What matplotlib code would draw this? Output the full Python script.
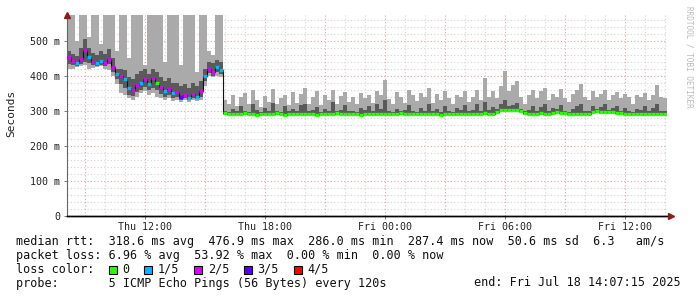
import numpy as np
import matplotlib
matplotlib.use("Agg")
import matplotlib.pyplot as plt
from matplotlib.patches import Rectangle

# sampling: Thu 08:07:15 -> Fri 14:07:15, one value per 12 minutes (hours since Thu 00:00)
start_hour = 8 + 7 / 60 + 15 / 3600
step_hours = 0.2

# median rtt (ms)
median = [
    452, 441, 436, 447, 472, 452, 440, 436, 441, 437,
    448, 425, 405, 398, 390, 365, 358, 372, 380, 390,
    375, 392, 380, 368, 355, 362, 350, 352, 340, 345,
    337, 348, 340, 355, 398, 418, 410, 425, 415,
    292, 290, 291, 289, 290, 292, 291, 290, 288, 290,
    291, 289, 290, 292, 290, 288, 289, 291, 290, 290,
    289, 291, 290, 288, 290, 291, 289, 290, 292, 290,
    290, 289, 291, 290, 288, 290, 291, 290, 289, 290,
    291, 290, 289, 290, 292, 290, 289, 291, 290, 289,
    290, 291, 289, 290, 288, 290, 291, 290, 289, 290,
    291, 290, 289, 290, 291, 292, 290, 291, 296, 301,
    302, 302, 301, 301, 300, 293, 290, 291, 290, 292,
    291, 290, 293, 295, 294, 292, 290, 291, 290, 289,
    290, 291, 297, 298, 297, 296, 297, 296, 294, 292,
    291, 290, 289, 291, 290, 289, 290, 291, 290, 289,
    290,
]

# lost pings out of 5
loss = [
    2, 2, 1, 2, 2, 1, 2, 1, 1, 2,
    2, 2, 1, 2, 1, 1, 2, 2, 1, 2,
    1, 2, 0, 2, 1, 2, 1, 2, 3, 2,
    1, 2, 1, 2, 1, 2, 2, 1, 1,
] + [0] * 111

# smoke: slowest / fastest ping (ms)
smoke_max = [
    580, 580, 500, 580, 580, 510, 580, 580, 490, 580,
    580, 580, 470, 580, 580, 450, 580, 580, 580, 430,
    580, 580, 580, 580, 440, 580, 580, 580, 430, 580,
    580, 580, 410, 580, 580, 470, 460, 580, 580,
    330, 318, 345, 312, 340, 350, 320, 358, 330, 310,
    342, 325, 362, 318, 335, 345, 315, 352, 322, 348,
    365, 320, 338, 355, 315, 345, 330, 360, 318, 342,
    352, 325, 340, 320, 350, 335, 345, 322, 355, 345,
    388, 332, 318, 352, 340, 322, 360, 345, 328, 350,
    340, 365, 322, 348, 330, 355, 335, 320, 345, 338,
    355, 325, 340, 360, 330, 392, 340, 355, 335, 370,
    413, 355, 372, 385, 340, 320, 345, 360, 335, 355,
    365, 330, 348, 340, 362, 335, 325, 348, 358, 375,
    340, 330, 355, 338, 348, 360, 330, 345, 352, 335,
    348, 340, 320, 345, 338, 350, 330, 345, 372, 340,
    335,
]
smoke_min = [
    420, 418, 425, 428, 430, 420, 422, 425, 428, 420,
    415, 400, 375, 350, 345, 335, 330, 340, 350, 355,
    345, 350, 340, 335, 330, 335, 328, 330, 325, 330,
    325, 330, 328, 330, 370, 400, 395, 400, 395,
    287, 286, 287, 285, 286, 287, 286, 286, 284, 286,
    287, 285, 286, 287, 286, 284, 285, 287, 286, 286,
    285, 287, 286, 284, 286, 287, 285, 286, 287, 286,
    286, 285, 287, 286, 284, 286, 287, 286, 285, 286,
    287, 286, 285, 286, 287, 286, 285, 287, 286, 285,
    286, 287, 285, 286, 284, 286, 287, 286, 285, 286,
    287, 286, 285, 286, 287, 288, 286, 287, 290, 295,
    296, 296, 295, 295, 294, 288, 286, 287, 286, 288,
    287, 286, 288, 289, 289, 288, 286, 287, 286, 285,
    286, 287, 291, 292, 291, 290, 291, 290, 289, 288,
    287, 286, 285, 287, 286, 285, 286, 287, 286, 285,
    286,
]

# smoke: inner pings around the median (ms)
inner_low = [
    432, 430, 428, 434, 440, 435, 430, 428, 430, 428,
    432, 410, 390, 375, 365, 345, 342, 352, 360, 368,
    358, 365, 360, 348, 338, 345, 335, 338, 330, 335,
    330, 335, 332, 340, 385, 408, 400, 410, 405,
    289, 288, 289, 287, 288, 289, 288, 288, 286, 288,
    289, 287, 288, 289, 288, 286, 287, 289, 288, 288,
    287, 289, 288, 286, 288, 289, 287, 288, 289, 288,
    288, 287, 289, 288, 286, 288, 289, 288, 287, 288,
    289, 288, 287, 288, 289, 288, 287, 289, 288, 287,
    288, 289, 287, 288, 286, 288, 289, 288, 287, 288,
    289, 288, 287, 288, 289, 290, 288, 289, 293, 298,
    299, 299, 298, 298, 297, 290, 288, 289, 288, 290,
    289, 288, 290, 292, 291, 290, 288, 289, 288, 287,
    288, 289, 294, 295, 294, 293, 294, 293, 291, 290,
    289, 288, 287, 289, 288, 287, 288, 289, 288, 287,
    288,
]
inner_high = [
    470, 462, 455, 478, 505, 480, 465, 458, 470, 462,
    475, 450, 420, 420, 415, 395, 390, 405, 412, 420,
    405, 420, 410, 395, 385, 392, 378, 380, 370, 375,
    365, 378, 370, 385, 420, 440, 435, 445, 440,
    300, 296, 305, 298, 312, 300, 296, 318, 302, 297,
    308, 298, 322, 300, 296, 312, 298, 305, 300, 315,
    318, 298, 302, 310, 296, 305, 299, 325, 298, 302,
    315, 300, 298, 296, 308, 302, 312, 298, 318, 305,
    330, 300, 296, 305, 298, 302, 315, 300, 297, 306,
    300, 318, 298, 305, 296, 312, 300, 297, 308, 302,
    315, 298, 302, 318, 300, 325, 302, 310, 305, 318,
    330, 312, 315, 322, 305, 298, 302, 312, 300, 310,
    318, 298, 306, 303, 315, 300, 296, 305, 312, 320,
    300, 298, 312, 305, 310, 318, 302, 308, 312, 300,
    308, 300, 296, 305, 302, 312, 298, 306, 320, 300,
    298,
]

loss_colors = ["#26ff00", "#00b8ff", "#dd00ff", "#5500ff", "#ff0000"]
loss_labels = ["0", "1/5", "2/5", "3/5", "4/5"]

x_labels = ["Thu 12:00", "Thu 18:00", "Fri 00:00", "Fri 06:00", "Fri 12:00"]
x_label_hours = [12, 18, 24, 30, 36]
y_ticks = [0, 100, 200, 300, 400, 500]

stats_lines = [
    "median rtt:  318.6 ms avg  476.9 ms max  286.0 ms min  287.4 ms now  50.6 ms sd  6.3   am/s",
    "packet loss: 6.96 % avg  53.92 % max  0.00 % min  0.00 % now",
]
probe_text = "probe:       5 ICMP Echo Pings (56 Bytes) every 120s"
end_text = "end: Fri Jul 18 14:07:15 2025"

W, H = 697, 297
MONO = "DejaVu Sans Mono"

fig = plt.figure(figsize=(W / 100, H / 100), dpi=100)
fig.patch.set_facecolor("white")
ax = fig.add_axes([67 / W, 1 - 215.5 / H, 600 / W, 200.5 / H])

n = len(median)
edges = start_hour + np.arange(n + 1) * step_hours
end_hour = edges[-1]


def ext(vals):
    return np.append(vals, vals[-1])


ymax = 573

# grid
for v in range(20, ymax, 20):
    major = v % 100 == 0
    ax.axhline(v, color="#e4a4a4" if major else "#d4d4d4", lw=0.8,
               ls=(0, (1, 2)), zorder=0)
for h in range(9, 39):
    major = h % 3 == 0
    ax.axvline(h, color="#e4a4a4" if major else "#d4d4d4", lw=0.8,
               ls=(0, (1, 2)), zorder=0)

# smoke
ax.fill_between(edges, ext(smoke_min), ext(smoke_max), step="post",
                color="#aaaaaa", lw=0, zorder=1)
ax.fill_between(edges, ext(inner_low), ext(inner_high), step="post",
                color="#5a5a5a", lw=0, zorder=2)

# median, coloured by loss
ax.step(edges, ext(median), where="post", color="#111111", lw=0.8, zorder=3)
ax.hlines(median, edges[:-1], edges[1:],
          colors=[loss_colors[l] for l in loss], lw=2.4, zorder=4)

ax.set_xlim(start_hour, end_hour)
ax.set_ylim(0, ymax)

for s in ["top", "right"]:
    ax.spines[s].set_visible(False)
ax.spines["left"].set_color("#666666")
ax.spines["left"].set_linewidth(0.8)
ax.spines["bottom"].set_color("black")
ax.spines["bottom"].set_linewidth(1.0)

ax.set_yticks(y_ticks)
ax.set_yticklabels(["0"] + ["%d m" % v for v in y_ticks[1:]])
ax.set_xticks(x_label_hours)
ax.set_xticklabels(x_labels)
ax.tick_params(axis="both", length=2, width=0.6, color="#666666",
               labelsize=7.2, pad=3)
for lab in ax.get_xticklabels() + ax.get_yticklabels():
    lab.set_family(MONO)
    lab.set_color("#222222")

# axis arrows
ax.plot([start_hour], [ymax], marker="^", color="#8b1a1a", ms=4,
        clip_on=False, zorder=6)
ax.plot([end_hour + 0.2], [0], marker=">", color="#8b1a1a", ms=4,
        clip_on=False, zorder=6)
ax.plot([start_hour, end_hour + 0.2], [0, 0], color="black", lw=1.0,
        clip_on=False, zorder=5)

fig.text(11 / W, 1 - 113 / H, "Seconds", rotation=90, family=MONO,
         fontsize=8, ha="center", va="center", color="#222222")
fig.text(689 / W, 1 - 6 / H, "RRDTOOL / TOBI OETIKER", rotation=270,
         family=MONO, fontsize=5.5, ha="center", va="top", color="#bbbbbb")

# legend block
fs = 8.5
char_w = 0.602 * fs * 100 / 72
x0 = 16
line_y = [242, 255.5, 269.5, 283]

for txt, yy in zip(stats_lines, line_y[:2]):
    fig.text(x0 / W, 1 - yy / H, txt, family=MONO, fontsize=fs,
             va="center", ha="left", color="#111111")

fig.text(x0 / W, 1 - line_y[2] / H, "loss color:", family=MONO,
         fontsize=fs, va="center", ha="left", color="#111111")
col = 13
for c, lab in zip(loss_colors, loss_labels):
    sx = x0 + col * char_w + 0.5
    sy = line_y[2] + 4
    fig.patches.append(Rectangle((sx / W, 1 - sy / H), 8 / W, 8 / H,
                                 transform=fig.transFigure, facecolor=c,
                                 edgecolor="black", lw=0.8))
    fig.text((x0 + (col + 2) * char_w) / W, 1 - line_y[2] / H, lab,
             family=MONO, fontsize=fs, va="center", ha="left",
             color="#111111")
    col += 2 + len(lab) + 2

fig.text(x0 / W, 1 - line_y[3] / H, probe_text, family=MONO, fontsize=fs,
         va="center", ha="left", color="#111111")
fig.text(681 / W, 1 - line_y[3] / H, end_text, family=MONO, fontsize=fs,
         va="center", ha="right", color="#111111")

fig.savefig("out.png", dpi=100, facecolor="white")
